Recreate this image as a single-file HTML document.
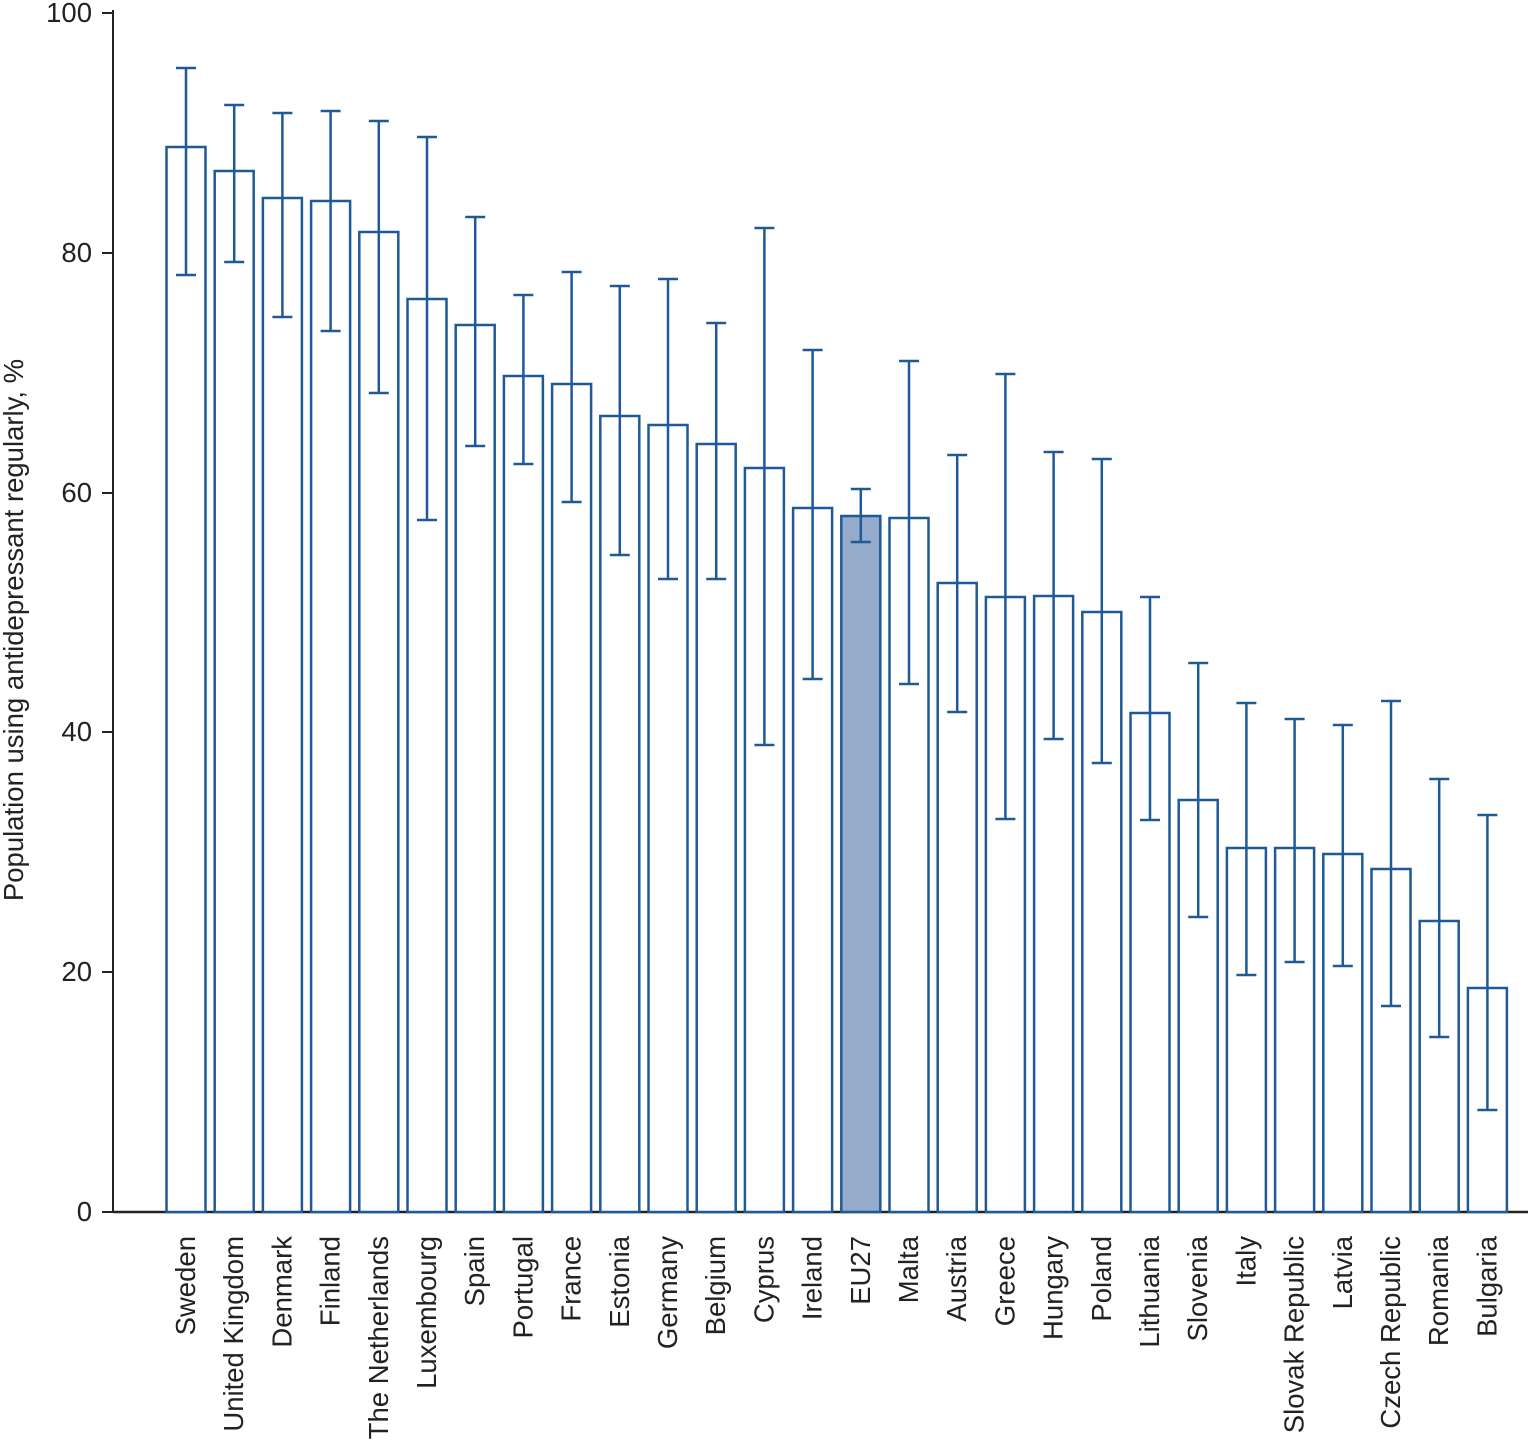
<!DOCTYPE html>
<html><head><meta charset="utf-8"><style>
html,body{margin:0;padding:0;background:#fff;}
svg{display:block;}
text{font-family:"Liberation Sans",sans-serif;fill:#222;}
.b{fill:#fff;stroke:#1f5a96;stroke-width:2.5;}
.e{stroke:#1f5a96;stroke-width:2.5;fill:none;}
.l{font-size:27.5px;}
</style></head><body>
<svg width="1530" height="1445" viewBox="0 0 1530 1445">
<line x1="113" y1="10" x2="113" y2="1213" stroke="#222" stroke-width="2"/>
<line x1="113" y1="1212" x2="1528" y2="1212" stroke="#222" stroke-width="2.5"/>
<g stroke="#222" stroke-width="2">
<line x1="102" y1="13" x2="113" y2="13"/><line x1="102" y1="253" x2="113" y2="253"/>
<line x1="102" y1="493" x2="113" y2="493"/><line x1="102" y1="732" x2="113" y2="732"/>
<line x1="102" y1="972" x2="113" y2="972"/><line x1="102" y1="1212" x2="113" y2="1212"/>
</g>
<g class="l" text-anchor="end">
<text x="92" y="22">100</text><text x="92" y="262">80</text><text x="92" y="502">60</text>
<text x="92" y="741">40</text><text x="92" y="981">20</text><text x="92" y="1221">0</text>
</g>
<text class="l" transform="translate(23,630) rotate(-90)" text-anchor="middle">Population using antidepressant regularly, %</text>
<g>
<rect class="b" x="166.5" y="147" width="39" height="1065"/>
<rect class="b" x="214.7" y="171" width="39" height="1041"/>
<rect class="b" x="262.9" y="198" width="39" height="1014"/>
<rect class="b" x="311.1" y="201" width="39" height="1011"/>
<rect class="b" x="359.3" y="232" width="39" height="980"/>
<rect class="b" x="407.5" y="299" width="39" height="913"/>
<rect class="b" x="455.7" y="325" width="39" height="887"/>
<rect class="b" x="503.9" y="376" width="39" height="836"/>
<rect class="b" x="552.1" y="384" width="39" height="828"/>
<rect class="b" x="600.3" y="416" width="39" height="796"/>
<rect class="b" x="648.5" y="425" width="39" height="787"/>
<rect class="b" x="696.7" y="444" width="39" height="768"/>
<rect class="b" x="744.9" y="468" width="39" height="744"/>
<rect class="b" x="793.1" y="508" width="39" height="704"/>
<rect class="b" x="841.3" y="516" width="39" height="696" style="fill:#95abcb"/>
<rect class="b" x="889.5" y="518" width="39" height="694"/>
<rect class="b" x="937.7" y="583" width="39" height="629"/>
<rect class="b" x="985.9" y="597" width="39" height="615"/>
<rect class="b" x="1034.1" y="596" width="39" height="616"/>
<rect class="b" x="1082.3" y="612" width="39" height="600"/>
<rect class="b" x="1130.5" y="713" width="39" height="499"/>
<rect class="b" x="1178.7" y="800" width="39" height="412"/>
<rect class="b" x="1226.9" y="848" width="39" height="364"/>
<rect class="b" x="1275.1" y="848" width="39" height="364"/>
<rect class="b" x="1323.3" y="854" width="39" height="358"/>
<rect class="b" x="1371.5" y="869" width="39" height="343"/>
<rect class="b" x="1419.7" y="921" width="39" height="291"/>
<rect class="b" x="1467.9" y="988" width="39" height="224"/>
</g>
<path class="e" d="
M186 68V275M176 68H196M176 275H196
M234.2 105V262M224.2 105H244.2M224.2 262H244.2
M282.4 113V317M272.4 113H292.4M272.4 317H292.4
M330.6 111V331M320.6 111H340.6M320.6 331H340.6
M378.8 121V393M368.8 121H388.8M368.8 393H388.8
M427 137V520M417 137H437M417 520H437
M475.2 217V446M465.2 217H485.2M465.2 446H485.2
M523.4 295V464M513.4 295H533.4M513.4 464H533.4
M571.6 272V502M561.6 272H581.6M561.6 502H581.6
M619.8 286V555M609.8 286H629.8M609.8 555H629.8
M668 279V579M658 279H678M658 579H678
M716.2 323V579M706.2 323H726.2M706.2 579H726.2
M764.4 228V745M754.4 228H774.4M754.4 745H774.4
M812.6 350V679M802.6 350H822.6M802.6 679H822.6
M860.8 489V542M850.8 489H870.8M850.8 542H870.8
M909 361V684M899 361H919M899 684H919
M957.2 455V712M947.2 455H967.2M947.2 712H967.2
M1005.4 374V819M995.4 374H1015.4M995.4 819H1015.4
M1053.6 452V739M1043.6 452H1063.6M1043.6 739H1063.6
M1101.8 459V763M1091.8 459H1111.8M1091.8 763H1111.8
M1150 597V820M1140 597H1160M1140 820H1160
M1198.2 663V917M1188.2 663H1208.2M1188.2 917H1208.2
M1246.4 703V975M1236.4 703H1256.4M1236.4 975H1256.4
M1294.6 719V962M1284.6 719H1304.6M1284.6 962H1304.6
M1342.8 725V966M1332.8 725H1352.8M1332.8 966H1352.8
M1391 701V1006M1381 701H1401M1381 1006H1401
M1439.2 779V1037M1429.2 779H1449.2M1429.2 1037H1449.2
M1487.4 815V1110M1477.4 815H1497.4M1477.4 1110H1497.4"/>
<g class="l" text-anchor="end">
<text transform="translate(195,1236) rotate(-90)">Sweden</text>
<text transform="translate(243.2,1236) rotate(-90)">United Kingdom</text>
<text transform="translate(291.4,1236) rotate(-90)">Denmark</text>
<text transform="translate(339.6,1236) rotate(-90)">Finland</text>
<text transform="translate(387.8,1236) rotate(-90)">The Netherlands</text>
<text transform="translate(436,1236) rotate(-90)">Luxembourg</text>
<text transform="translate(484.2,1236) rotate(-90)">Spain</text>
<text transform="translate(532.4,1236) rotate(-90)">Portugal</text>
<text transform="translate(580.6,1236) rotate(-90)">France</text>
<text transform="translate(628.8,1236) rotate(-90)">Estonia</text>
<text transform="translate(677,1236) rotate(-90)">Germany</text>
<text transform="translate(725.2,1236) rotate(-90)">Belgium</text>
<text transform="translate(773.4,1236) rotate(-90)">Cyprus</text>
<text transform="translate(821.6,1236) rotate(-90)">Ireland</text>
<text transform="translate(869.8,1236) rotate(-90)">EU27</text>
<text transform="translate(918,1236) rotate(-90)">Malta</text>
<text transform="translate(966.2,1236) rotate(-90)">Austria</text>
<text transform="translate(1014.4,1236) rotate(-90)">Greece</text>
<text transform="translate(1062.6,1236) rotate(-90)">Hungary</text>
<text transform="translate(1110.8,1236) rotate(-90)">Poland</text>
<text transform="translate(1159,1236) rotate(-90)">Lithuania</text>
<text transform="translate(1207.2,1236) rotate(-90)">Slovenia</text>
<text transform="translate(1255.4,1236) rotate(-90)">Italy</text>
<text transform="translate(1303.6,1236) rotate(-90)">Slovak Republic</text>
<text transform="translate(1351.8,1236) rotate(-90)">Latvia</text>
<text transform="translate(1400,1236) rotate(-90)">Czech Republic</text>
<text transform="translate(1448.2,1236) rotate(-90)">Romania</text>
<text transform="translate(1496.4,1236) rotate(-90)">Bulgaria</text>
</g>
</svg>
</body></html>
